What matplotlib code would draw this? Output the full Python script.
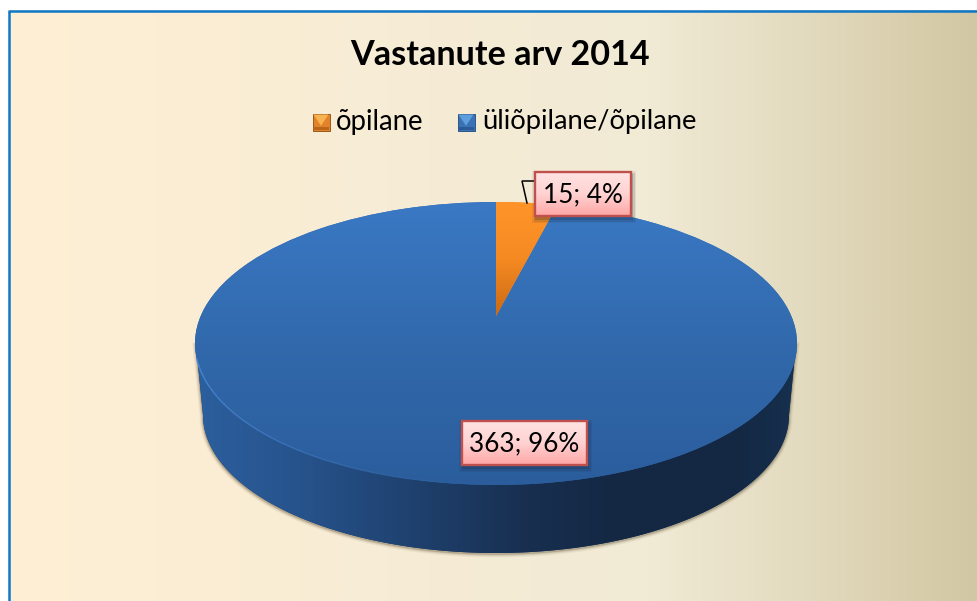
import numpy as np
import matplotlib
matplotlib.use("Agg")
import matplotlib.pyplot as plt
from matplotlib.colors import LinearSegmentedColormap
from matplotlib.patches import Polygon, Rectangle
from matplotlib.transforms import Transform

title = "Vastanute arv 2014"
categories = ["õpilane", "üliõpilane/õpilane"]
values = [15, 363]

FONT = "Lato"
W, H = 977, 601
fig = plt.figure(figsize=(W / 100, H / 100), dpi=100, facecolor="white")
ax = fig.add_axes([0, 0, 1, 1])


class PieProjection(Transform):
    """Perspective view of the unit pie, giving pixel coordinates."""
    input_dims = output_dims = 2
    is_separable = False
    has_inverse = False
    c = 0.1943

    def transform_non_affine(self, pts):
        pts = np.asarray(pts, float)
        u, v = pts[:, 0], pts[:, 1]
        d = 1 + self.c * v
        return np.column_stack([496 + 295.3 * u / d, (316 - 74.74 * v) / d])


def gradient(colors, extent, vertical=True, clip=None, z=1, stops=None):
    pos = stops if stops is not None else np.linspace(0, 1, len(colors))
    cmap = LinearSegmentedColormap.from_list("g", list(zip(pos, colors)))
    g = np.linspace(0, 1, 512)
    arr = g[:, None] if vertical else g[None, :]
    x0, x1, y0, y1 = extent
    im = ax.imshow(arr, cmap=cmap, vmin=0, vmax=1, extent=(x0, x1, y1, y0),
                   origin="upper", aspect="auto", zorder=z, interpolation="bilinear")
    if clip is not None:
        im.set_clip_path(clip)
    return im


wedges, _ = ax.pie(values, startangle=90, counterclock=False, radius=1, center=(0, 0))
proj = PieProjection()
for w in wedges:
    w.set_transform(proj + ax.transData)
    w.set_linewidth(0)
wedges[0].set_facecolor("#E8821F")
wedges[1].set_facecolor("#3269AC")
wedges[0].set_zorder(6)
wedges[1].set_zorder(4)

# panel
gradient(["#FEEFD4", "#F9EDD5", "#F1EAD5", "#E3DBBF", "#D2C7A3"], (8.5, W, 10.5, H),
         vertical=False, z=0, stops=[0, 0.3, 0.66, 0.82, 1])
ax.plot([8.5, 8.5], [H, 10.5], color="#0F77C8", lw=1.8, zorder=1, solid_capstyle="butt")
ax.plot([7.6, W], [10.8, 10.8], color="#0F77C8", lw=1.8, zorder=1, solid_capstyle="butt")

# pie side wall
t = np.linspace(np.pi, 2 * np.pi, 300)
bx = 496 + 293 * np.cos(t)
by = 415 - 138 * np.sin(t)
wall_pts = np.vstack([[[196, 345]], np.column_stack([bx, by]), [[796, 345]], [[496, 345]]])
for lw, a in [(7, 0.05), (5, 0.08), (3, 0.12), (1.5, 0.2)]:
    ax.add_patch(Polygon(wall_pts + [0, 1], closed=True, facecolor="none",
                         edgecolor="#4A3C1E", lw=lw * 0.72, alpha=a, zorder=2))
wall = Polygon(wall_pts, closed=True, facecolor="#1A3356", lw=0, zorder=3)
ax.add_patch(wall)
gradient(["#2C5F9E", "#27538C", "#1F4270", "#182F50", "#142843", "#142843", "#16304F"],
         (196, 797, 340, 560), vertical=False, clip=wall, z=3,
         stops=[0, 0.17, 0.35, 0.55, 0.7, 0.9, 1])

# pie top
gradient(["#3B79C5", "#3169AC", "#2B5D9C"], (190, 800, 200, 487), clip=wedges[1], z=5)
gradient(["#FF952A", "#F58A22", "#C96814"], (490, 565, 200, 318), clip=wedges[0], z=7)

# rim highlight on the lower left, fading out towards the front
edges = np.radians(np.linspace(186, 262, 20))
for i in range(len(edges) - 1):
    r = np.linspace(edges[i], edges[i + 1], 20)
    fade = 1 - i / (len(edges) - 1)
    ax.plot(496 + 301 * np.cos(r), 343.5 - 141.5 * np.sin(r), color="#4F8FDB",
            lw=1.1, alpha=0.75 * fade, zorder=8, solid_capstyle="butt")

# leader line of the small slice
ax.plot([527, 522, 535], [203, 181, 181], color="black", lw=1.1, zorder=9,
        solid_joinstyle="miter")


def data_label(text, x0, y0, x1, y1):
    for grow, a in [(4, 0.08), (2.5, 0.12), (1, 0.18)]:
        ax.add_patch(Rectangle((x0 - grow + 1, y0 - grow + 3), x1 - x0 + 2 * grow,
                               y1 - y0 + 2 * grow, facecolor="#1A2030", alpha=a,
                               lw=0, zorder=10))
    box = Rectangle((x0, y0), x1 - x0, y1 - y0, facecolor="#FFC4C4", lw=0, zorder=11)
    ax.add_patch(box)
    gradient(["#FFE3E3", "#FFD2D2", "#FFA6A6"], (x0, x1, y0, y1), clip=box, z=11)
    ax.add_patch(Rectangle((x0, y0), x1 - x0, y1 - y0, facecolor="none",
                           edgecolor="#C0504D", lw=1.7, zorder=12))
    ax.text((x0 + x1) / 2, (y0 + y1) / 2 + 1, text, ha="center", va="center",
            family=FONT, fontsize=18.8, color="black", zorder=13)


total = sum(values)
label_text = [f"{v}; {round(100 * v / total)}%" for v in values]
data_label(label_text[0], 535, 172, 631, 216)
data_label(label_text[1], 462, 421, 587, 465)

# title
ax.text(499.5, 55, title, ha="center", va="center", family=FONT, weight="bold",
        fontsize=24.6, color="black", zorder=13)


# legend
def swatch(x, y, s, top, side, bottom, outline):
    cx, cy = x + s / 2, y + s * 0.72
    ax.add_patch(Rectangle((x, y), s, s, facecolor=side, edgecolor=outline, lw=0.7, zorder=13))
    ax.add_patch(Polygon([[x + 1, y + 1], [x + s - 1, y + 1], [cx, cy]], facecolor=top, lw=0, zorder=14))
    ax.add_patch(Rectangle((x + 0.5, y + s * 0.78), s - 1, s * 0.2, facecolor=bottom, lw=0, zorder=14))


swatch(312.5, 113.5, 17, "#F8B24F", "#E2832A", "#B9661A", "#9A5A1C")
swatch(457.5, 113.5, 17, "#5F9EDC", "#3A72B6", "#2C5A96", "#2F5688")
ax.text(336, 122, categories[0], ha="left", va="center", family=FONT, fontsize=19.8, zorder=13)
ax.text(482, 122, categories[1], ha="left", va="center", family=FONT, fontsize=19.7, zorder=13)

ax.set_aspect("auto")
ax.set_xlim(0, W)
ax.set_ylim(H, 0)
ax.axis("off")
fig.savefig("out.png", dpi=100, facecolor="white")
